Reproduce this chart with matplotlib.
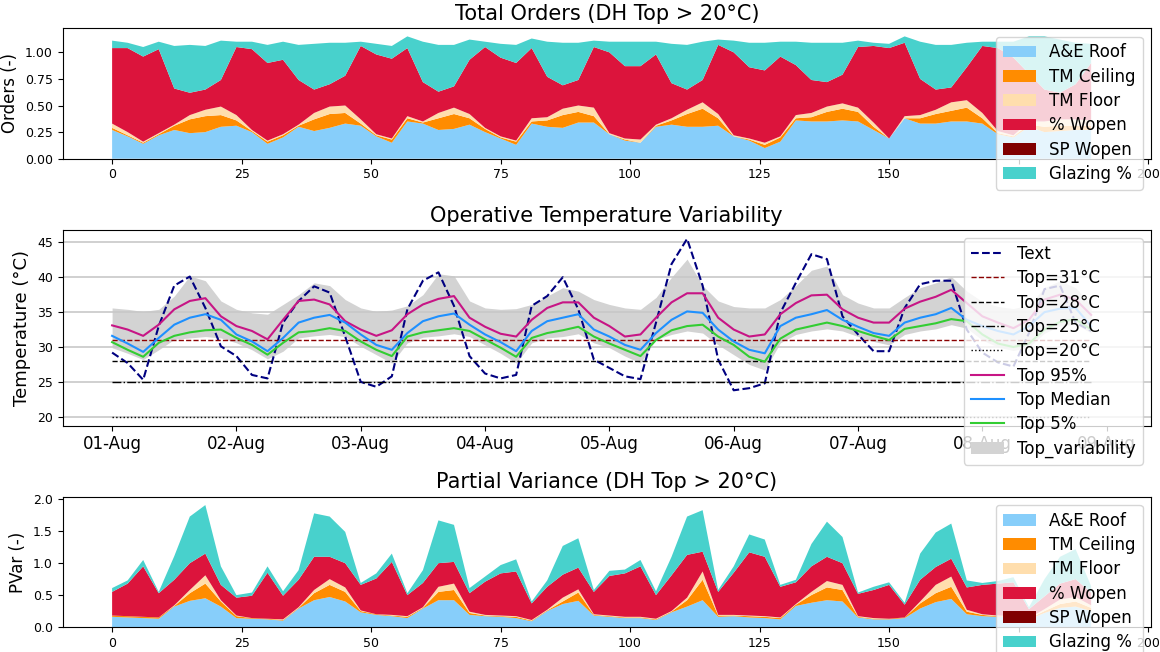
import matplotlib
matplotlib.use('Agg')
import pandas as pd
import matplotlib.pyplot as plt
import matplotlib.dates as mdates

# hour index, sampled every 3 h (01-Aug 00:00 ... 08-Aug 21:00)
hours = list(range(0, 192, 3))

labels = ['A&E Roof', 'TM Ceiling', 'TM Floor', '% Wopen', 'SP Wopen', 'Glazing %']
colors = ['lightskyblue', 'darkorange', 'navajowhite', 'crimson', 'maroon', 'mediumturquoise']

# ---- Total orders (stacked)
roof_o = [.27, .21, .14, .22, .27, .24, .25, .30, .31, .25, .14, .20, .30, .26, .29, .33,
          .31, .21, .15, .35, .33, .27, .28, .32, .25, .19, .13, .33, .30, .29, .34, .34,
          .23, .17, .15, .30, .32, .30, .30, .31, .21, .17, .10, .16, .36, .35, .35, .36,
          .35, .27, .19, .38, .33, .33, .35, .35, .33, .23, .20, .30, .25, .26, .27, .27]
ceil_o = [.02, .01, .01, .01, .04, .13, .15, .11, .05, .01, .02, .02, .01, .11, .13, .10,
          .02, .01, .03, .03, .01, .11, .14, .06, .03, .01, .03, .02, .06, .12, .10, .06,
          .00, .01, .00, .01, .04, .12, .17, .07, .00, .01, .03, .04, .02, .04, .09, .11,
          .09, .03, .00, .00, .05, .09, .10, .13, .05, .01, .01, .02, .05, .05, .04, .04]
floor_o = [.04, .03, .01, .01, .01, .04, .06, .08, .05, .01, .01, .01, .01, .06, .07, .07,
           .04, .01, .01, .02, .01, .05, .06, .04, .01, .01, .01, .03, .03, .06, .06, .08,
           .01, .01, .03, .01, .02, .04, .06, .04, .01, .01, .02, .01, .03, .04, .05, .05,
           .04, .04, .00, .02, .03, .04, .08, .07, .05, .02, .01, .03, .05, .06, .06, .05]
wopen_o = [.71, .79, .80, .79, .34, .21, .19, .25, .64, .76, .73, .70, .42, .22, .21, .28,
           .69, .75, .75, .64, .37, .20, .20, .51, .76, .74, .73, .66, .38, .22, .24, .57,
           .76, .68, .69, .66, .33, .19, .21, .65, .78, .67, .68, .75, .47, .31, .23, .27,
           .57, .72, .85, .69, .34, .19, .14, .31, .63, .78, .73, .45, .30, .25, .33, .54]
sp_o = [0, 0, 0, 0, 0, 0, 0, 0, 0, 0, 0, 0, 0, 0, 0, 0,
        0, 0, 0, 0, 0, 0, 0, 0, 0, 0, 0, 0, 0, 0, 0, 0,
        0, 0, 0, 0, 0, 0, 0, 0, 0, 0, 0, 0, 0, 0, 0, 0,
        0, 0, 0, 0, 0, 0, 0, 0, 0, 0, 0, 0, 0, 0, 0, 0]
glaz_o = [.07, .05, .09, .07, .40, .45, .41, .37, .05, .07, .17, .17, .33, .43, .39, .31,
          .04, .10, .12, .11, .38, .44, .39, .19, .05, .13, .17, .09, .33, .40, .35, .06,
          .10, .23, .23, .12, .37, .42, .36, .05, .11, .23, .26, .14, .22, .35, .37, .30,
          .06, .03, .04, .06, .35, .42, .40, .23, .04, .06, .15, .35, .50, .50, .39, .18]

# ---- Operative temperature
text_t = [29.2, 27.7, 25.3, 33.0, 38.8, 40.1, 35.6, 30.1, 28.7, 26.0, 25.5, 33.5, 36.6, 38.7, 37.8, 31.5,
          25.0, 24.3, 25.8, 35.4, 39.5, 40.7, 35.9, 28.7, 26.2, 25.5, 26.0, 35.9, 37.3, 40.0, 35.4, 28.2,
          27.0, 25.8, 25.4, 33.5, 41.9, 45.5, 38.8, 28.2, 23.8, 24.1, 24.8, 34.9, 39.2, 43.3, 42.6, 34.4,
          31.8, 29.4, 29.4, 35.6, 39.0, 39.5, 39.5, 32.5, 29.2, 27.8, 27.2, 32.0, 38.3, 38.8, 33.5, 32.3]
top_95 = [33.1, 32.5, 31.6, 33.2, 35.4, 36.6, 37.0, 34.4, 33.0, 32.3, 31.1, 33.9, 36.6, 36.8, 36.1, 33.7,
          32.5, 31.6, 32.4, 34.7, 36.1, 36.9, 37.3, 34.2, 32.9, 31.9, 31.5, 33.9, 35.6, 36.4, 36.4, 34.2,
          33.0, 31.5, 31.8, 34.2, 36.4, 37.7, 37.7, 34.2, 32.5, 31.5, 31.8, 34.7, 36.3, 37.4, 37.5, 35.4,
          34.2, 33.5, 33.5, 35.5, 36.5, 37.2, 38.2, 36.3, 34.4, 33.5, 32.7, 33.9, 36.8, 37.5, 36.8, 34.6]
top_med = [31.6, 30.5, 29.3, 31.3, 33.2, 34.2, 34.7, 33.9, 31.8, 30.8, 29.4, 31.3, 33.5, 34.2, 34.6, 33.5,
           31.8, 30.3, 29.6, 32.0, 33.7, 34.4, 34.8, 33.2, 31.8, 30.7, 29.4, 32.3, 33.7, 34.2, 34.7, 32.5,
           31.5, 30.3, 29.6, 32.0, 33.9, 35.1, 34.9, 32.5, 30.8, 29.6, 29.1, 33.0, 34.2, 34.7, 35.3, 33.9,
           32.9, 32.0, 31.6, 33.5, 34.2, 34.7, 35.6, 33.9, 33.0, 32.3, 31.8, 33.0, 35.0, 35.5, 35.6, 33.0]
top_5 = [30.7, 29.6, 28.6, 30.6, 31.6, 32.1, 32.4, 32.5, 31.3, 30.3, 28.9, 30.6, 32.1, 32.3, 32.7, 32.3,
         30.8, 29.6, 28.7, 31.5, 32.1, 32.4, 32.7, 32.3, 31.1, 29.9, 28.6, 31.3, 32.0, 32.4, 32.9, 31.5,
         30.5, 29.6, 28.7, 31.0, 32.4, 33.0, 33.2, 31.5, 30.3, 28.6, 27.9, 31.2, 32.5, 33.0, 33.5, 33.0,
         32.3, 31.6, 31.0, 32.6, 33.0, 33.4, 34.0, 33.7, 31.8, 30.5, 30.0, 30.5, 32.5, 33.6, 34.0, 32.5]
band_lo = [29.9, 29.1, 28.2, 29.6, 31.1, 31.3, 31.5, 31.3, 30.6, 29.6, 28.3, 29.4, 31.3, 31.6, 31.8, 31.5,
           30.1, 28.9, 27.7, 30.6, 31.4, 31.6, 31.9, 31.5, 30.3, 29.1, 27.7, 30.6, 31.3, 31.5, 31.9, 30.6,
           29.9, 28.7, 27.7, 31.1, 31.8, 32.3, 32.0, 30.3, 28.9, 27.5, 26.7, 30.6, 31.8, 32.3, 32.6, 32.3,
           31.5, 30.8, 30.3, 31.8, 32.3, 32.6, 33.2, 32.7, 31.0, 30.0, 29.5, 30.0, 32.0, 33.0, 33.3, 32.0]
band_hi = [35.6, 35.4, 35.1, 35.4, 37.3, 40.2, 39.5, 36.6, 35.4, 34.9, 34.7, 36.1, 37.5, 39.2, 38.8, 36.8,
           35.6, 35.1, 35.3, 35.9, 37.5, 40.5, 40.2, 36.6, 35.6, 35.4, 35.5, 36.1, 37.3, 38.5, 38.0, 36.8,
           36.1, 35.6, 35.4, 37.1, 40.0, 42.6, 38.8, 36.6, 35.8, 35.6, 35.6, 36.8, 38.8, 41.0, 41.6, 37.5,
           36.3, 35.6, 35.6, 37.1, 38.5, 39.2, 40.1, 38.0, 36.5, 35.8, 35.5, 36.0, 38.5, 39.5, 38.5, 36.0]
thresholds = [31, 28, 25, 20]
thr_styles = [('darkred', '--'), ('black', '--'), ('black', '-.'), ('black', ':')]

# ---- Partial variance (stacked)
roof_p = [.16, .15, .14, .13, .32, .41, .45, .32, .14, .13, .12, .10, .29, .42, .47, .40,
          .23, .19, .17, .14, .29, .42, .42, .19, .17, .16, .14, .09, .25, .36, .41, .18,
          .16, .14, .14, .11, .23, .32, .42, .16, .17, .15, .14, .12, .33, .38, .42, .40,
          .15, .12, .12, .14, .29, .39, .44, .20, .17, .16, .15, .12, .22, .30, .32, .25]
ceil_p = [.02, .02, .02, .02, .01, .12, .23, .08, .03, .01, .01, .01, .01, .11, .19, .15,
          .02, .01, .01, .02, .01, .13, .16, .03, .01, .01, .02, .01, .01, .04, .13, .01,
          .01, .01, .01, .01, .01, .10, .32, .02, .01, .02, .02, .02, .02, .12, .20, .18,
          .01, .01, .01, .01, .08, .14, .19, .04, .02, .01, .01, .01, .03, .06, .08, .05]
floor_p = [.00, .00, .00, .00, .01, .05, .13, .02, .01, .00, .00, .01, .01, .05, .09, .07,
           .01, .00, .01, .01, .01, .08, .10, .02, .01, .01, .01, .01, .01, .06, .05, .01,
           .01, .01, .01, .01, .01, .04, .13, .01, .01, .01, .01, .01, .01, .05, .10, .08,
           .01, .01, .00, .00, .03, .13, .16, .03, .01, .01, .01, .01, .03, .07, .07, .04]
wopen_p = [.37, .51, .79, .38, .40, .42, .34, .24, .28, .35, .72, .37, .43, .52, .35, .38,
           .40, .56, .83, .33, .38, .37, .34, .29, .52, .66, .70, .26, .36, .36, .34, .35,
           .62, .68, .79, .37, .56, .67, .31, .36, .66, .99, .93, .48, .34, .40, .38, .34,
           .35, .44, .53, .20, .34, .28, .28, .35, .46, .50, .53, .14, .20, .25, .28, .20]
sp_p = [0, 0, 0, 0, 0, 0, 0, 0, 0, 0, 0, 0, 0, 0, 0, 0,
        0, 0, 0, 0, 0, 0, 0, 0, 0, 0, 0, 0, 0, 0, 0, 0,
        0, 0, 0, 0, 0, 0, 0, 0, 0, 0, 0, 0, 0, 0, 0, 0,
        0, 0, 0, 0, 0, 0, 0, 0, 0, 0, 0, 0, 0, 0, 0, 0]
glaz_p = [.06, .05, .10, .02, .37, .73, .76, .29, .04, .05, .10, .07, .15, .68, .63, .49,
          .03, .08, .13, .03, .20, .67, .58, .08, .08, .13, .19, .03, .10, .45, .46, .03,
          .08, .06, .10, .06, .29, .60, .65, .03, .10, .28, .27, .03, .04, .35, .55, .41,
          .02, .05, .04, .03, .41, .54, .55, .11, .03, .04, .08, .03, .27, .42, .47, .10]


fig = plt.figure(figsize=(11.6, 6.52), dpi=100)
ax1 = fig.add_axes([0.054, 0.7566, 0.9382, 0.2])
ax2 = fig.add_axes([0.054, 0.3471, 0.9382, 0.3002])
ax3 = fig.add_axes([0.054, 0.0383, 0.9382, 0.1998])

""" top: total orders """
ax1.stackplot(hours, roof_o, ceil_o, floor_o, wopen_o, sp_o, glaz_o,
              labels=labels, colors=colors)
ax1.set_xlim(-9.55, 200.55)
ax1.set_ylim(0, 1.226)
ax1.set_title('Total Orders (DH Top > 20°C)', fontsize=15)
ax1.set_ylabel('Orders (-)', fontsize=12)
ax1.tick_params(labelsize=9)
ax1.legend(loc='upper right', fontsize=12, labelspacing=0.38)

""" middle: operative temperature """
t0 = pd.Timestamp('2023-08-01')
times = t0 + pd.to_timedelta(hours, unit='h')
ax2.fill_between(times, band_lo, band_hi, color='lightgray', lw=0, label='Top_variability')
ax2.plot(times, text_t, color='navy', ls='--', lw=1.5, label='Text')
for thr, (c, ls) in zip(thresholds, thr_styles):
    ax2.plot([times[0], times[-1]], [thr, thr], color=c, ls=ls, lw=1, label=f'Top={thr}°C')
ax2.plot(times, top_95, color='mediumvioletred', lw=1.5, label='Top 95%')
ax2.plot(times, top_med, color='dodgerblue', lw=1.5, label='Top Median')
ax2.plot(times, top_5, color='limegreen', lw=1.5, label='Top 5%')
ax2.grid(axis='y', color='#c8c8c8', lw=1.2)
ax2.set_xlim(t0 - pd.Timedelta(hours=9.55), t0 + pd.Timedelta(hours=200.55))
ax2.xaxis.set_major_locator(mdates.DayLocator())
ax2.xaxis.set_major_formatter(mdates.DateFormatter('%d-%b'))
ax2.tick_params(axis='x', labelsize=12)
ax2.tick_params(axis='y', labelsize=9)
ax2.set_title('Operative Temperature Variability', fontsize=15)
ax2.set_ylabel('Temperature (°C)', fontsize=13)
h, l = ax2.get_legend_handles_labels()
ax2.legend(h[1:] + h[:1], l[1:] + l[:1], loc='upper right', fontsize=12, labelspacing=0.38)

""" bottom: partial variance """
ax3.stackplot(hours, roof_p, ceil_p, floor_p, wopen_p, sp_p, glaz_p,
              labels=labels, colors=colors)
ax3.set_xlim(-9.55, 200.55)
ax3.set_ylim(0, 2.04)
ax3.set_title('Partial Variance (DH Top > 20°C)', fontsize=15)
ax3.set_ylabel('PVar (-)', fontsize=12)
ax3.tick_params(labelsize=9)
ax3.legend(loc='upper right', fontsize=12, labelspacing=0.38)

plt.savefig('out.png', dpi=100)
